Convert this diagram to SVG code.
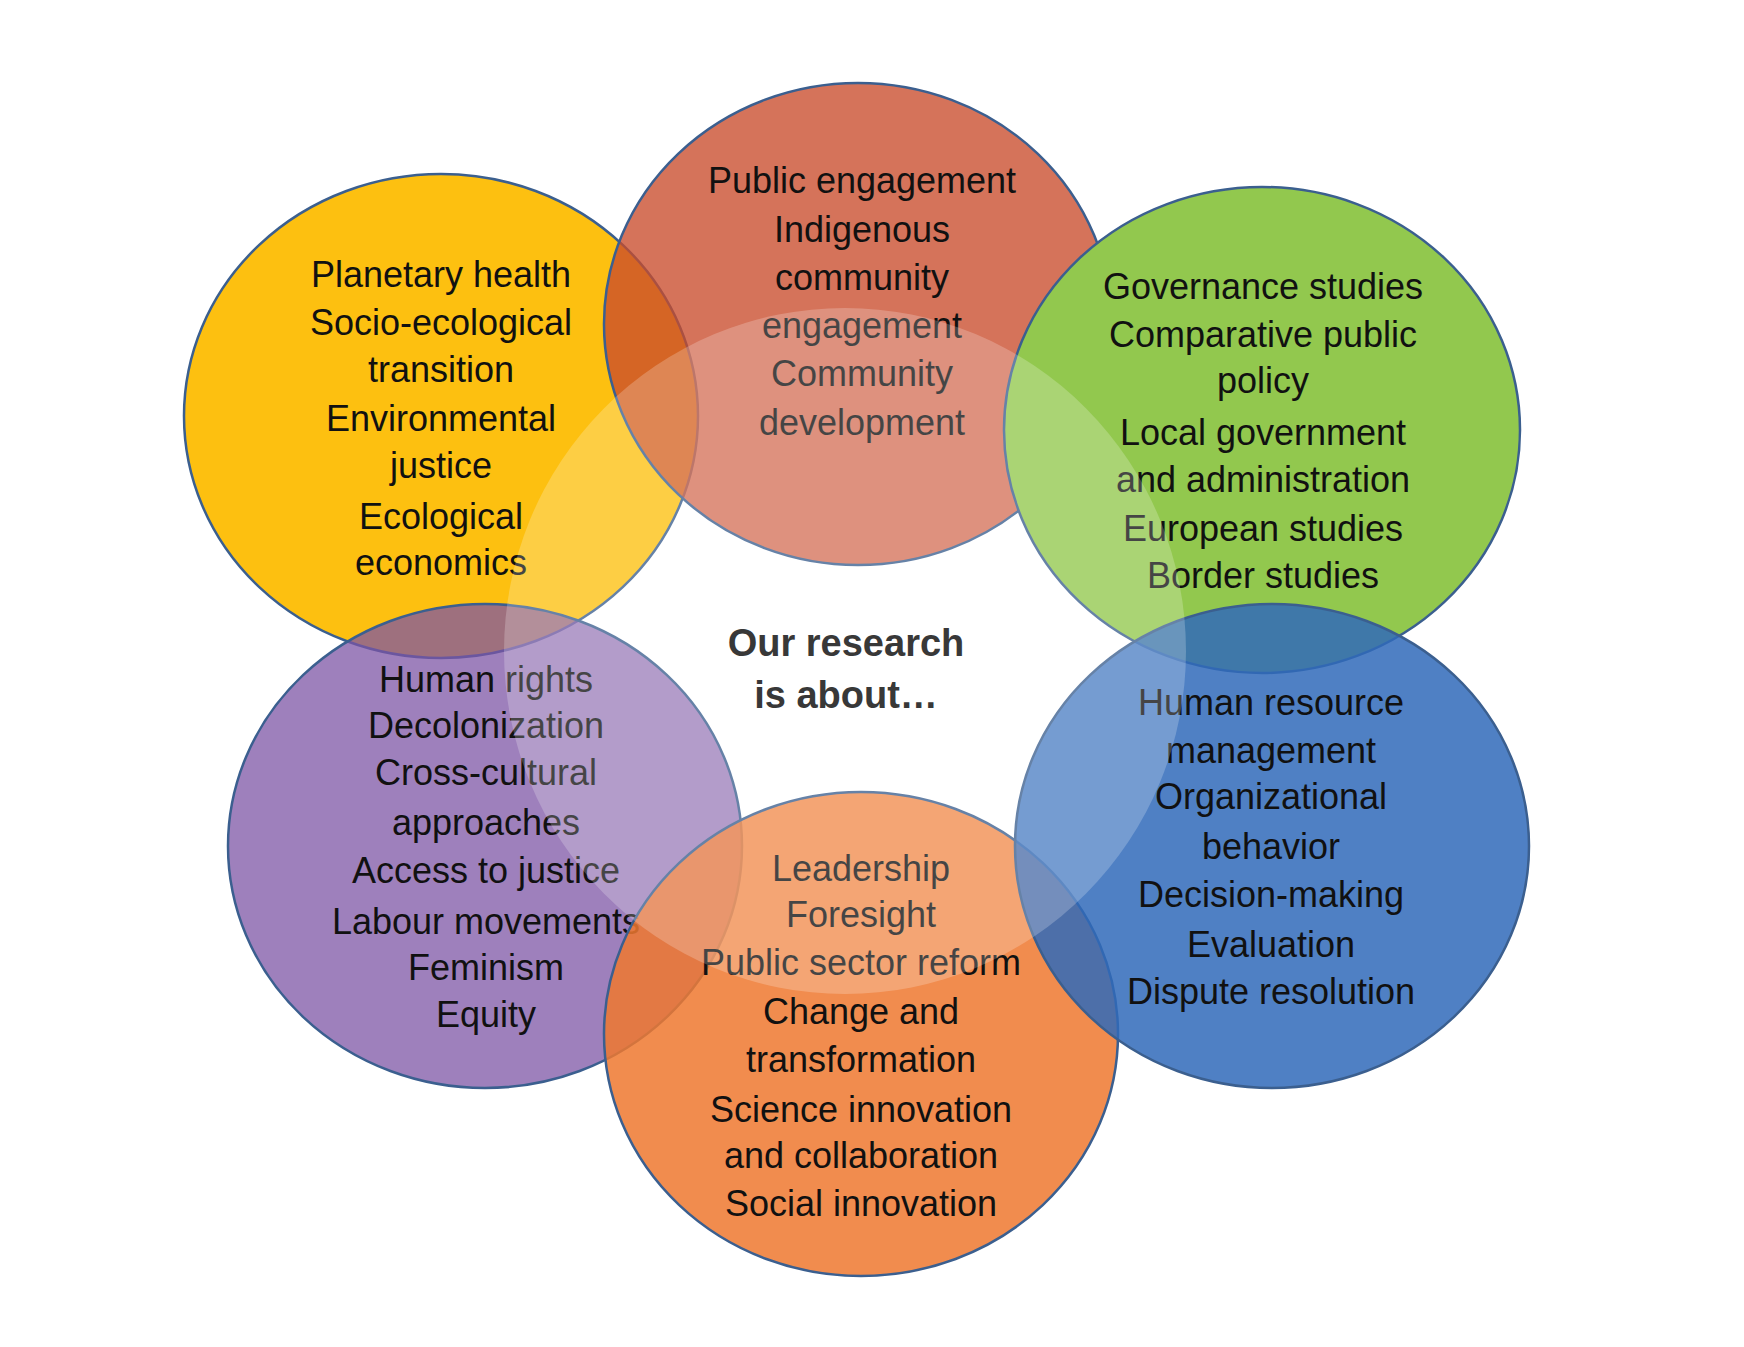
<svg xmlns="http://www.w3.org/2000/svg" width="1744" height="1347" viewBox="0 0 1744 1347">
<style>
.c{stroke:#3b5f8f;stroke-width:2.5}
.t{font-family:"Liberation Sans",Arial,sans-serif;font-size:36px;text-anchor:middle;fill:#111}
.h{font-family:"Liberation Sans",Arial,sans-serif;font-size:38px;font-weight:bold;text-anchor:middle;fill:#383838}
</style>
<rect width="1744" height="1347" fill="#ffffff"/>
<g id="node-yellow">
<ellipse class="c" cx="441" cy="416" rx="257" ry="242" fill="#fdc010"/>
<text class="t" x="441" y="287">Planetary health</text>
<text class="t" x="441" y="335">Socio-ecological</text>
<text class="t" x="441" y="382">transition</text>
<text class="t" x="441" y="431">Environmental</text>
<text class="t" x="441" y="478">justice</text>
<text class="t" x="441" y="529">Ecological</text>
<text class="t" x="441" y="575">economics</text>
</g>
<g id="node-red">
<ellipse class="c" cx="858" cy="324" rx="254" ry="241" fill="#c94c2c" fill-opacity="0.78"/>
<text class="t" x="862" y="193">Public engagement</text>
<text class="t" x="862" y="242">Indigenous</text>
<text class="t" x="862" y="290">community</text>
<text class="t" x="862" y="338">engagement</text>
<text class="t" x="862" y="386">Community</text>
<text class="t" x="862" y="435">development</text>
</g>
<g id="node-green">
<ellipse class="c" cx="1262" cy="430" rx="258" ry="243" fill="#92c84e"/>
<text class="t" x="1263" y="299">Governance studies</text>
<text class="t" x="1263" y="347">Comparative public</text>
<text class="t" x="1263" y="393">policy</text>
<text class="t" x="1263" y="445">Local government</text>
<text class="t" x="1263" y="492">and administration</text>
<text class="t" x="1263" y="541">European studies</text>
<text class="t" x="1263" y="588">Border studies</text>
</g>
<g id="node-purple">
<ellipse class="c" cx="485" cy="846" rx="257" ry="242" fill="#7c54a5" fill-opacity="0.74"/>
<text class="t" x="486" y="692">Human rights</text>
<text class="t" x="486" y="738">Decolonization</text>
<text class="t" x="486" y="785">Cross-cultural</text>
<text class="t" x="486" y="835">approaches</text>
<text class="t" x="486" y="883">Access to justice</text>
<text class="t" x="486" y="934">Labour movements</text>
<text class="t" x="486" y="980">Feminism</text>
<text class="t" x="486" y="1027">Equity</text>
</g>
<g id="node-orange">
<ellipse class="c" cx="861" cy="1034" rx="257" ry="242" fill="#ee782f" fill-opacity="0.85"/>
<text class="t" x="861" y="881">Leadership</text>
<text class="t" x="861" y="927">Foresight</text>
<text class="t" x="861" y="975">Public sector reform</text>
<text class="t" x="861" y="1024">Change and</text>
<text class="t" x="861" y="1072">transformation</text>
<text class="t" x="861" y="1122">Science innovation</text>
<text class="t" x="861" y="1168">and collaboration</text>
<text class="t" x="861" y="1216">Social innovation</text>
</g>
<g id="node-blue">
<ellipse class="c" cx="1272" cy="846" rx="257" ry="242" fill="#306aba" fill-opacity="0.85"/>
<text class="t" x="1271" y="715">Human resource</text>
<text class="t" x="1271" y="763">management</text>
<text class="t" x="1271" y="809">Organizational</text>
<text class="t" x="1271" y="859">behavior</text>
<text class="t" x="1271" y="907">Decision-making</text>
<text class="t" x="1271" y="957">Evaluation</text>
<text class="t" x="1271" y="1004">Dispute resolution</text>
</g>
<g id="overlay">
<ellipse cx="845" cy="651" rx="341" ry="343" fill="#ffffff" fill-opacity="0.22"/>
</g>
<g id="node-center">
<text class="h" x="846" y="656">Our research</text>
<text class="h" x="846" y="708">is about…</text>
</g>
</svg>
